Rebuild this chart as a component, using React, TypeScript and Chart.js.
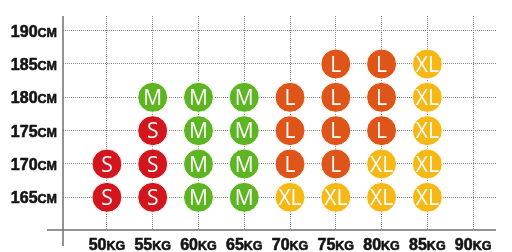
import React, { useEffect, useRef } from "react";
import { Chart, registerables } from "chart.js";

Chart.register(...registerables);

const weightTicks = [50, 55, 60, 65, 70, 75, 80, 85, 90];
const heightTicks = [165, 170, 175, 180, 185, 190];
const weightUnit = "KG";
const heightUnit = "CM";
const sizes = ["S", "M", "L", "XL"];
const sizeColors = ["#d3161d", "#5db521", "#df5519", "#f5b815"];

// one row per height (same order as heightTicks), one column per weight
const row165 = ["S", "S", "M", "M", "XL", "XL", "XL", "XL", ""];
const row170 = ["S", "S", "M", "M", "L", "L", "XL", "XL", ""];
const row175 = ["", "S", "M", "M", "L", "L", "L", "XL", ""];
const row180 = ["", "M", "M", "M", "L", "L", "L", "XL", ""];
const row185 = ["", "", "", "", "", "L", "L", "XL", ""];
const row190 = ["", "", "", "", "", "", "", "", ""];
const sizeRows = [row165, row170, row175, row180, row185, row190];

const NUM_FONT = "bold 16px 'Liberation Sans', Arial, sans-serif";
const UNIT_FONT = "bold 12.5px 'Liberation Sans', Arial, sans-serif";
const LABEL_COLOR = "#151515";

function boldText(ctx: CanvasRenderingContext2D, t: string, x: number, y: number) {
  ctx.fillText(t, x, y);
  ctx.strokeText(t, x, y);
}

const labelPlugin = {
  id: "sizeLabels",
  afterDatasetsDraw(chart: any) {
    const ctx = chart.ctx;
    ctx.save();
    ctx.fillStyle = "#ffffff";
    ctx.font = "21px 'Open Sans', sans-serif";
    ctx.textAlign = "center";
    ctx.textBaseline = "alphabetic";
    chart.data.datasets.forEach((ds: any, di: number) => {
      const meta = chart.getDatasetMeta(di);
      meta.data.forEach((pt: any) => {
        ctx.fillText(ds.label, pt.x, pt.y + 7.5);
      });
    });
    ctx.restore();
  },
  afterDraw(chart: any) {
    const ctx = chart.ctx;
    const area = chart.chartArea;
    const xs = chart.scales.x;
    const ys = chart.scales.y;
    ctx.save();
    // axis lines, extended past the corner
    ctx.strokeStyle = "#707070";
    ctx.lineWidth = 1.5;
    ctx.beginPath();
    ctx.moveTo(area.left, area.top);
    ctx.lineTo(area.left, area.bottom + 16);
    ctx.moveTo(area.left - 16, area.bottom);
    ctx.lineTo(area.right, area.bottom);
    ctx.stroke();

    ctx.fillStyle = LABEL_COLOR;
    ctx.strokeStyle = LABEL_COLOR;
    ctx.lineWidth = 0.6;
    ctx.lineJoin = "round";
    ctx.textBaseline = "alphabetic";
    // y labels
    ctx.font = UNIT_FONT;
    const cmW = ctx.measureText(heightUnit).width;
    heightTicks.forEach((h) => {
      const y = ys.getPixelForValue(h);
      const right = area.left - 6;
      ctx.font = UNIT_FONT;
      ctx.textAlign = "right";
      boldText(ctx, heightUnit, right, y + 6);
      ctx.font = NUM_FONT;
      boldText(ctx, String(h), right - cmW, y + 6);
    });
    // x labels
    weightTicks.forEach((w) => {
      const x = xs.getPixelForValue(w);
      ctx.font = NUM_FONT;
      const nW = ctx.measureText(String(w)).width;
      ctx.font = UNIT_FONT;
      const uW = ctx.measureText(weightUnit).width;
      const start = x - (nW + uW) / 2;
      ctx.textAlign = "left";
      ctx.font = NUM_FONT;
      boldText(ctx, String(w), start, area.bottom + 20);
      ctx.font = UNIT_FONT;
      boldText(ctx, weightUnit, start + nW, area.bottom + 20);
    });
    ctx.restore();
  },
};

export default function App() {
  const ref = useRef<HTMLCanvasElement>(null);
  useEffect(() => {
    document.body.style.margin = "0";
    const datasets = sizes.map((s, si) => {
      const data: { x: number; y: number }[] = [];
      sizeRows.forEach((row, ri) => {
        row.forEach((cell, ci) => {
          if (cell === s) data.push({ x: weightTicks[ci], y: heightTicks[ri] });
        });
      });
      return {
        label: s,
        data,
        backgroundColor: sizeColors[si],
        borderColor: "#ffffff",
        borderWidth: 1,
        pointRadius: 15,
        pointHoverRadius: 15,
        showLine: false,
      };
    });
    const gridOpts = { color: "#858585", lineWidth: 1, drawTicks: false };
    const chart = new Chart(ref.current as HTMLCanvasElement, {
      type: "scatter",
      data: { datasets },
      options: {
        responsive: false,
        animation: false,
        layout: { padding: { left: 63, right: 15, top: 13, bottom: 22 } },
        plugins: { legend: { display: false }, tooltip: { enabled: false } },
        scales: {
          x: {
            type: "linear",
            min: 45.2,
            max: 92.5,
            afterBuildTicks: (s: any) => {
              s.ticks = weightTicks.map((v) => ({ value: v }));
            },
            ticks: { display: false },
            grid: gridOpts,
            border: { display: false, dash: [1, 1] },
          },
          y: {
            type: "linear",
            min: 160.1,
            max: 192.2,
            afterBuildTicks: (s: any) => {
              s.ticks = heightTicks.map((v) => ({ value: v }));
            },
            ticks: { display: false },
            grid: gridOpts,
            border: { display: false, dash: [1, 1] },
          },
        },
      } as any,
      plugins: [labelPlugin],
    });
    return () => chart.destroy();
  }, []);
  return <canvas ref={ref} width={512} height={252} style={{ display: "block" }} />;
}
